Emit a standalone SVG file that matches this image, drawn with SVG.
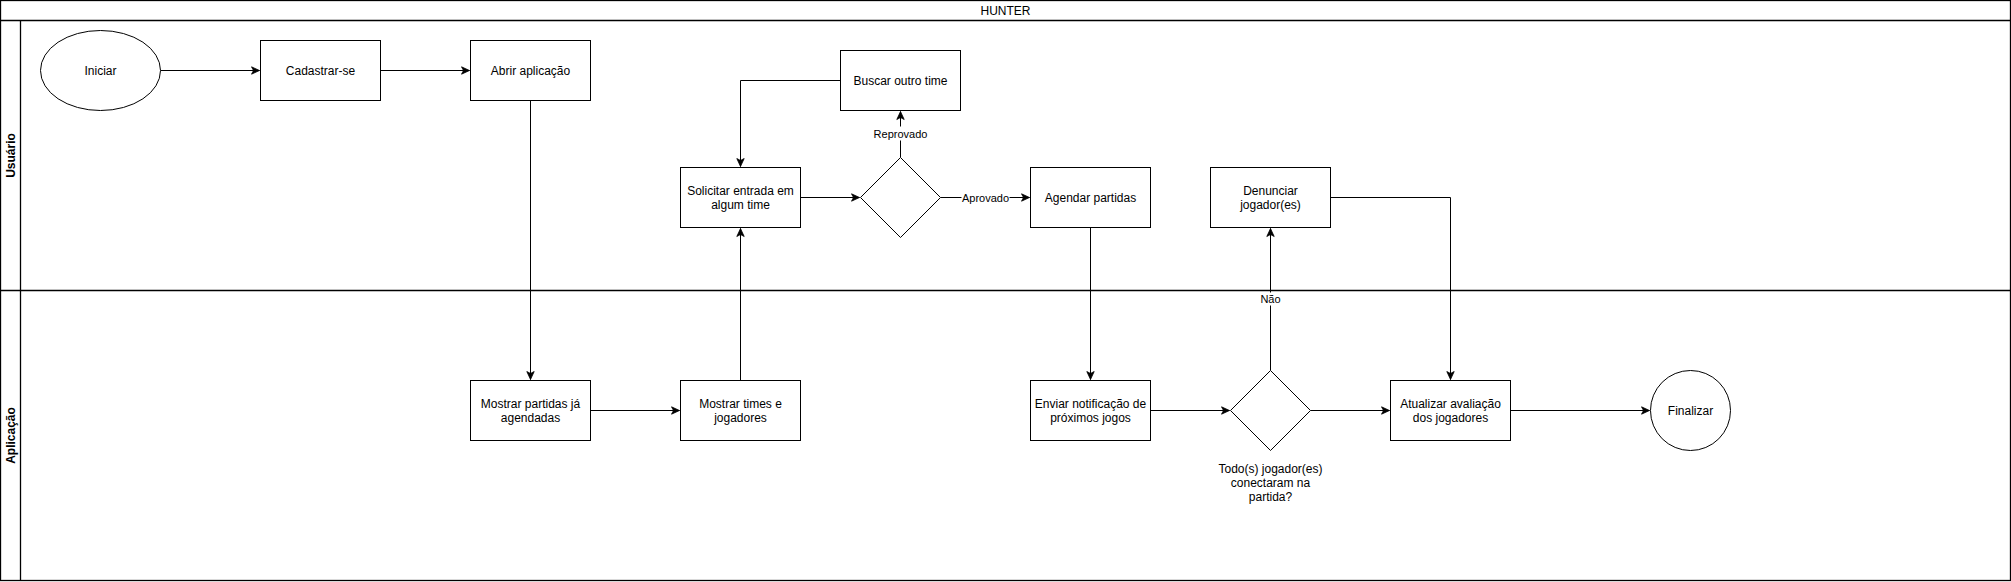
<svg xmlns="http://www.w3.org/2000/svg" width="2011" height="582" viewBox="0 0 2011 582">
<style>
  .box{fill:#fff;stroke:#000;stroke-width:1}
  .lane{fill:none;stroke:#000;stroke-width:1.3}
  .t{font-family:"Liberation Sans",Arial,sans-serif;font-size:12px;fill:#000;text-anchor:middle}
  .lt{font-family:"Liberation Sans",Arial,sans-serif;font-size:12px;font-weight:bold;fill:#000;text-anchor:middle}
  .e{fill:none;stroke:#000;stroke-width:1}
  .lbl{font-family:"Liberation Sans",Arial,sans-serif;font-size:11px;fill:#000;text-anchor:middle}
</style>
<defs>
  <marker id="arr" markerUnits="userSpaceOnUse" markerWidth="10" markerHeight="10" viewBox="0 0 10 10" refX="9" refY="5" orient="auto">
    <path d="M1,1.3 L9,5 L1,8.7 L3,5 z" fill="#000" stroke="#000" stroke-width="0.8"/>
  </marker>
</defs>
<rect width="2011" height="582" fill="#fff"/>
<g transform="translate(0.5,0.5)">
  <g id="pool">
    <rect class="lane" x="0" y="0" width="2010" height="580"/>
    <line class="lane" x1="0" y1="20" x2="2010" y2="20"/>
    <line class="lane" x1="0" y1="290" x2="2010" y2="290"/>
    <line class="lane" x1="20" y1="20" x2="20" y2="580"/>
    <text class="t" x="1005" y="14">HUNTER</text>
    <text class="lt" transform="translate(14,155) rotate(-90)">Usuário</text>
    <text class="lt" transform="translate(14,435) rotate(-90)">Aplicação</text>
  </g>

  <g id="connectors">
    <path class="e" d="M160,70 L259,70" marker-end="url(#arr)"/>
    <path class="e" d="M380,70 L469,70" marker-end="url(#arr)"/>
    <path class="e" d="M530,100 L530,379" marker-end="url(#arr)"/>
    <path class="e" d="M590,410 L679,410" marker-end="url(#arr)"/>
    <path class="e" d="M740,380 L740,228" marker-end="url(#arr)"/>
    <path class="e" d="M800,197 L859,197" marker-end="url(#arr)"/>
    <path class="e" d="M900,157 L900,111" marker-end="url(#arr)"/>
    <path class="e" d="M840,80 L740,80 L740,166" marker-end="url(#arr)"/>
    <path class="e" d="M940,197 L1029,197" marker-end="url(#arr)"/>
    <path class="e" d="M1090,227 L1090,379" marker-end="url(#arr)"/>
    <path class="e" d="M1150,410 L1229,410" marker-end="url(#arr)"/>
    <path class="e" d="M1270,370 L1270,228" marker-end="url(#arr)"/>
    <path class="e" d="M1330,197 L1450,197 L1450,379" marker-end="url(#arr)"/>
    <path class="e" d="M1310,410 L1389,410" marker-end="url(#arr)"/>
    <path class="e" d="M1510,410 L1649,410" marker-end="url(#arr)"/>
    <rect x="873" y="126" width="54" height="14" fill="#fff"/>
    <text class="lbl" x="900" y="137">Reprovado</text>
    <rect x="961" y="190" width="48" height="14" fill="#fff"/>
    <text class="lbl" x="985" y="201">Aprovado</text>
    <rect x="1258" y="292" width="24" height="13" fill="#fff"/>
    <text class="lbl" x="1270" y="302">Não</text>
  </g>

  <g id="iniciar">
    <ellipse class="box" cx="100" cy="70" rx="60" ry="40"/>
    <text class="t" x="100" y="74">Iniciar</text>
  </g>
  <g id="cadastrar">
    <rect class="box" x="260" y="40" width="120" height="60"/>
    <text class="t" x="320" y="74">Cadastrar-se</text>
  </g>
  <g id="abrir">
    <rect class="box" x="470" y="40" width="120" height="60"/>
    <text class="t" x="530" y="74">Abrir aplicação</text>
  </g>
  <g id="buscar">
    <rect class="box" x="840" y="50" width="120" height="60"/>
    <text class="t" x="900" y="84">Buscar outro time</text>
  </g>
  <g id="solicitar">
    <rect class="box" x="680" y="167" width="120" height="60"/>
    <text class="t" x="740" y="194">Solicitar entrada em</text>
    <text class="t" x="740" y="208">algum time</text>
  </g>
  <g id="decisao1">
    <polygon class="box" points="900,157 940,197 900,237 860,197"/>
  </g>
  <g id="agendar">
    <rect class="box" x="1030" y="167" width="120" height="60"/>
    <text class="t" x="1090" y="201">Agendar partidas</text>
  </g>
  <g id="denunciar">
    <rect class="box" x="1210" y="167" width="120" height="60"/>
    <text class="t" x="1270" y="194">Denunciar</text>
    <text class="t" x="1270" y="208">jogador(es)</text>
  </g>
  <g id="mostrar-partidas">
    <rect class="box" x="470" y="380" width="120" height="60"/>
    <text class="t" x="530" y="407">Mostrar partidas já</text>
    <text class="t" x="530" y="421">agendadas</text>
  </g>
  <g id="mostrar-times">
    <rect class="box" x="680" y="380" width="120" height="60"/>
    <text class="t" x="740" y="407">Mostrar times e</text>
    <text class="t" x="740" y="421">jogadores</text>
  </g>
  <g id="enviar">
    <rect class="box" x="1030" y="380" width="120" height="60"/>
    <text class="t" x="1090" y="407">Enviar notificação de</text>
    <text class="t" x="1090" y="421">próximos jogos</text>
  </g>
  <g id="decisao2">
    <polygon class="box" points="1270,370 1310,410 1270,450 1230,410"/>
    <text class="t" x="1270" y="472">Todo(s) jogador(es)</text>
    <text class="t" x="1270" y="486">conectaram na</text>
    <text class="t" x="1270" y="500">partida?</text>
  </g>
  <g id="atualizar">
    <rect class="box" x="1390" y="380" width="120" height="60"/>
    <text class="t" x="1450" y="407">Atualizar avaliação</text>
    <text class="t" x="1450" y="421">dos jogadores</text>
  </g>
  <g id="finalizar">
    <circle class="box" cx="1690" cy="410" r="40"/>
    <text class="t" x="1690" y="414">Finalizar</text>
  </g>
</g>
</svg>
